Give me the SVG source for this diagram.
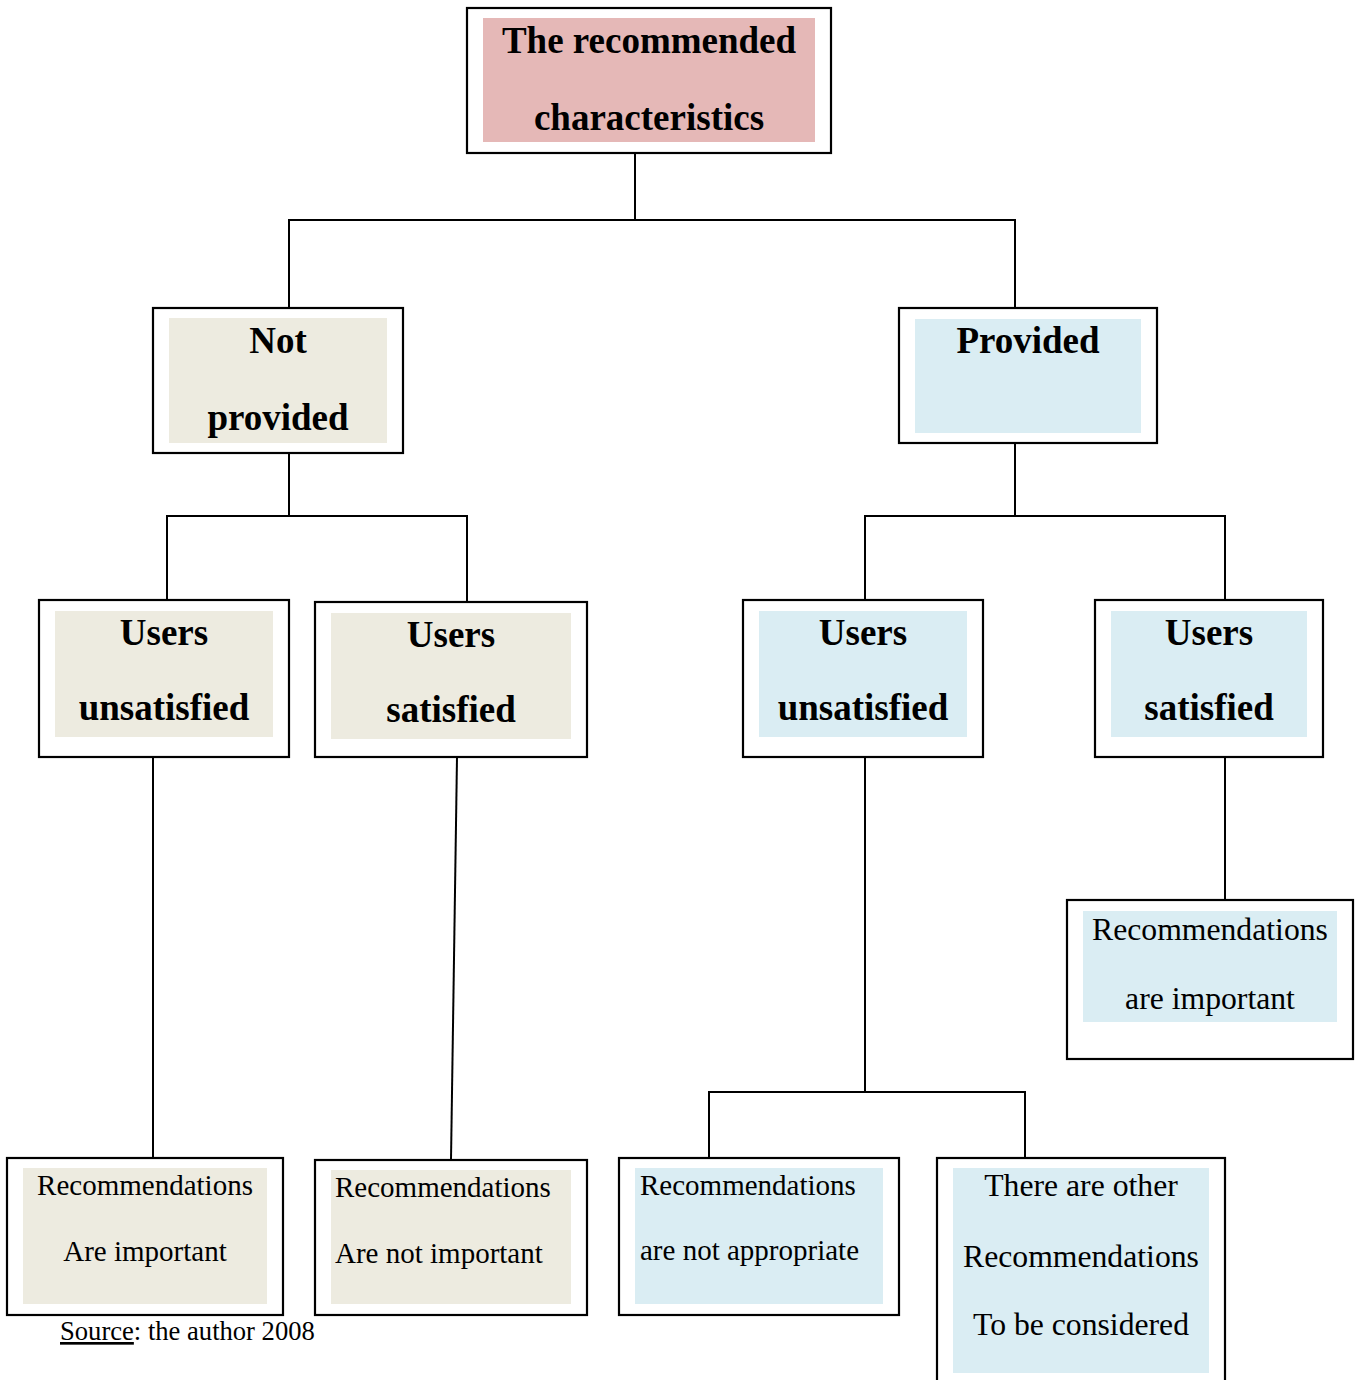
<svg xmlns="http://www.w3.org/2000/svg" width="1361" height="1380" viewBox="0 0 1361 1380">
<style>
.box{fill:#fff;stroke:#000;stroke-width:2.2}
.pink{fill:#E5B8B7}
.tan{fill:#EDEBE0}
.blue{fill:#DAEDF3}
.b{font-family:"Liberation Serif","Times New Roman",serif;font-weight:bold;font-size:37px;fill:#000;text-anchor:middle}
.r{font-family:"Liberation Serif","Times New Roman",serif;font-size:29px;fill:#000}
.r2{font-family:"Liberation Serif","Times New Roman",serif;font-size:31.7px;fill:#000;text-anchor:middle}
.c{text-anchor:middle}
.ln{fill:none;stroke:#000;stroke-width:2}
</style>
<rect width="1361" height="1380" fill="#fff"/>
<g id="connectors">
<path class="ln" d="M635 153V220M289 308V220H1015V308"/>
<path class="ln" d="M289 453V516M167 600V516H467V602"/>
<path class="ln" d="M1015 443V516M865 600V516H1225V600"/>
<path class="ln" d="M153 757V1158"/>
<path class="ln" d="M457 757L451 1160"/>
<path class="ln" d="M865 757V1092M709 1158V1092H1025V1158"/>
<path class="ln" d="M1225 757V900"/>
</g>
<g id="root">
<rect class="box" x="467" y="8" width="364" height="145"/>
<rect class="pink" x="483" y="18" width="332" height="124"/>
<text class="b" x="649" y="53">The recommended</text>
<text class="b" x="649" y="130">characteristics</text>
</g>
<g id="not-provided">
<rect class="box" x="153" y="308" width="250" height="145"/>
<rect class="tan" x="169" y="318" width="218" height="125"/>
<text class="b" x="278" y="353">Not</text>
<text class="b" x="278" y="430">provided</text>
</g>
<g id="provided">
<rect class="box" x="899" y="308" width="258" height="135"/>
<rect class="blue" x="915" y="319" width="226" height="114"/>
<text class="b" x="1028" y="353">Provided</text>
</g>
<g id="np-unsatisfied">
<rect class="box" x="39" y="600" width="250" height="157"/>
<rect class="tan" x="55" y="611" width="218" height="126"/>
<text class="b" x="164" y="645">Users</text>
<text class="b" x="164" y="720">unsatisfied</text>
</g>
<g id="np-satisfied">
<rect class="box" x="315" y="602" width="272" height="155"/>
<rect class="tan" x="331" y="613" width="240" height="126"/>
<text class="b" x="451" y="647">Users</text>
<text class="b" x="451" y="722">satisfied</text>
</g>
<g id="p-unsatisfied">
<rect class="box" x="743" y="600" width="240" height="157"/>
<rect class="blue" x="759" y="611" width="208" height="126"/>
<text class="b" x="863" y="645">Users</text>
<text class="b" x="863" y="720">unsatisfied</text>
</g>
<g id="p-satisfied">
<rect class="box" x="1095" y="600" width="228" height="157"/>
<rect class="blue" x="1111" y="611" width="196" height="126"/>
<text class="b" x="1209" y="645">Users</text>
<text class="b" x="1209" y="720">satisfied</text>
</g>
<g id="rec-important-provided">
<rect class="box" x="1067" y="900" width="286" height="159"/>
<rect class="blue" x="1083" y="911" width="254" height="111"/>
<text class="r2" x="1210" y="940">Recommendations</text>
<text class="r2" x="1210" y="1009">are important</text>
</g>
<g id="rec-important">
<rect class="box" x="7" y="1158" width="276" height="157"/>
<rect class="tan" x="23" y="1168" width="244" height="136"/>
<text class="r c" x="145" y="1195">Recommendations</text>
<text class="r c" x="145" y="1261">Are important</text>
</g>
<g id="rec-not-important">
<rect class="box" x="315" y="1160" width="272" height="155"/>
<rect class="tan" x="331" y="1170" width="240" height="134"/>
<text class="r" x="335" y="1197">Recommendations</text>
<text class="r" x="335" y="1263">Are not important</text>
</g>
<g id="rec-not-appropriate">
<rect class="box" x="619" y="1158" width="280" height="157"/>
<rect class="blue" x="635" y="1168" width="248" height="136"/>
<text class="r" x="640" y="1195">Recommendations</text>
<text class="r" x="640" y="1260">are not appropriate</text>
</g>
<g id="other-rec">
<rect class="box" x="937" y="1158" width="288" height="240"/>
<rect class="blue" x="953" y="1168" width="256" height="205"/>
<text class="r2" x="1081" y="1196">There are other</text>
<text class="r2" x="1081" y="1267">Recommendations</text>
<text class="r2" x="1081" y="1335">To be considered</text>
</g>
<g id="source">
<text x="60" y="1340" style="font-family:'Liberation Serif','Times New Roman',serif;font-size:26.6px;fill:#000"><tspan text-decoration="underline">Source</tspan>: the author 2008</text>
</g>
</svg>
